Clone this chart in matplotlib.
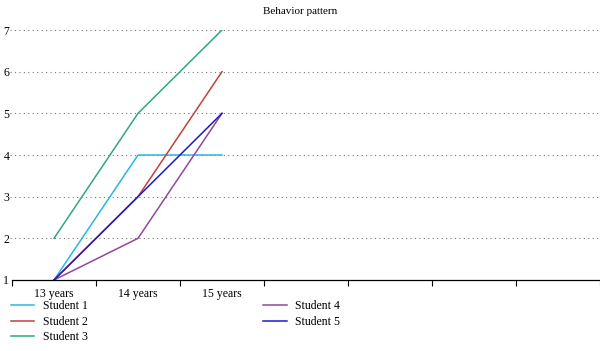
import numpy as np
import matplotlib.pyplot as plt

# DATOS
categorias = ['13 years', '14 years', '15 years', '', '', '', '']
edades = ['13 years', '14 years', '15 years']
estudiante1 = [1, 4, 4]
estudiante2 = [1, 3, 6]
estudiante3 = [2, 5, 7]
estudiante4 = [1, 2, 5]
estudiante5 = [1, 3, 5]
nombres = ['Student 1', 'Student 2', 'Student 3', 'Student 4', 'Student 5']
colores = ['#29b6e6', '#c0403c', '#2ea97a', '#9146a0', '#1a1acc']

plt.rcParams['font.family'] = ['Liberation Serif', 'DejaVu Serif']

fig = plt.figure(figsize=(6, 3.51), dpi=100)
ax = fig.add_axes([0.02, 0.2023, 0.98, 0.7122])

xi = np.arange(len(edades)) + 0.5
series = [estudiante1, estudiante2, estudiante3, estudiante4, estudiante5]
for serie, nombre, color in zip(series, nombres, colores):
    ax.plot(xi, serie, color=color, linewidth=1.1, label=nombre)

ax.set_xlim(0, len(categorias))
ax.set_ylim(1, 7)
ax.set_xticks(np.arange(len(categorias) + 1))
ax.set_xticklabels([])
ax.set_xticks(np.arange(len(categorias)) + 0.5, minor=True)
ax.set_xticklabels(categorias, minor=True, fontsize=8.5)
ax.tick_params(axis='x', which='major', length=4, direction='out', width=0.8)
ax.tick_params(axis='x', which='minor', length=0, pad=6)
ax.set_yticks(range(1, 8))
ax.tick_params(axis='y', length=0, labelsize=8.5, pad=2)

for y in range(2, 8):
    ax.axhline(y, color='#777777', linestyle=(0, (1, 3)), linewidth=0.8,
               xmin=-0.003, clip_on=False, zorder=0)

for lado in ['left', 'right', 'top']:
    ax.spines[lado].set_visible(False)
ax.spines['bottom'].set_linewidth(0.9)

fig.text(0.5, 0.98, 'Behavior pattern', ha='center', va='top', fontsize=8)

fig.legend(loc='upper left', bbox_to_anchor=(0.01, 0.158), ncol=2,
           frameon=False, fontsize=8.5, handlelength=2.0, handletextpad=0.7,
           columnspacing=14.9, labelspacing=0.3, borderaxespad=0)

plt.savefig('out.png', dpi=100)
